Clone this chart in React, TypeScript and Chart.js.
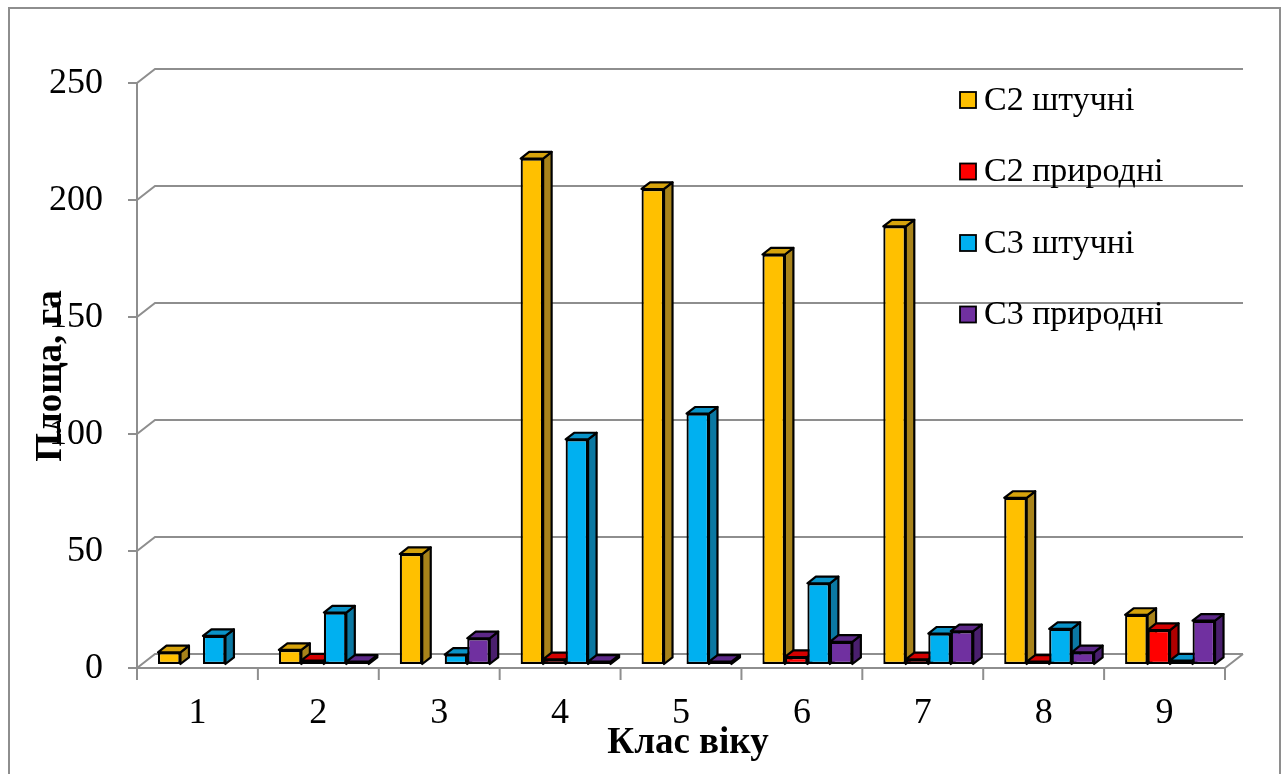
import React, { useEffect, useRef } from "react";
import { Chart, registerables } from "chart.js";

Chart.register(...registerables);

// Age classes and areas (ha) per stand type
const categories = ["1", "2", "3", "4", "5", "6", "7", "8", "9"];
const c2Planted = [5, 6, 47, 216, 203, 175, 187, 71, 21];
const c2Natural = [0, 1.5, 0, 2, 0, 3, 2, 1, 14.5];
const c3Planted = [12, 22, 4, 96, 107, 34.5, 13, 15, 1.5];
const c3Natural = [0, 1, 11, 1, 1, 9.5, 14, 5, 18.5];
const seriesNames = ["С2 штучні", "С2 природні", "С3 штучні", "С3 природні"];
const yTicks = [0, 50, 100, 150, 200, 250];

// front / top / side shades of each series
const palette = [
  { front: "#FFC000", top: "#D6A30C", side: "#A8831A" },
  { front: "#FF0000", top: "#D40000", side: "#B00000" },
  { front: "#00B0F0", top: "#0A93C8", side: "#0B78A2" },
  { front: "#7030A0", top: "#5D2888", side: "#4A1F6E" },
];

const SERIF = "'Liberation Serif', 'Times New Roman', serif";
const GRID = "#8E8E8E";
const OUTLINE = 2.2;

// depth geometry of the pseudo-3D box (pixels)
const FRONT_DX = -5.5; // front axis plane relative to the bar plane
const FRONT_DY = 4;
const WALL_DX = 18; // back wall relative to the front plane
const WALL_DY = -14;
const BAR_DX = 8.5; // bar thickness
const BAR_DY = -6.6;

const box3d = {
  id: "box3d",
  beforeDatasetsDraw(chart: any) {
    const { ctx, chartArea } = chart;
    const xs = chart.scales.x;
    const ys = chart.scales.y;
    const fl = chartArea.left + FRONT_DX;
    const fr = chartArea.right + FRONT_DX;
    const fy = (v: number) => ys.getPixelForValue(v) + FRONT_DY;

    ctx.save();
    // outer frame
    ctx.strokeStyle = GRID;
    ctx.lineWidth = 2;
    ctx.strokeRect(9, 8, 1271, 800);

    // back wall gridlines, left wall ledges and tick marks
    ctx.lineWidth = 2;
    ctx.strokeStyle = GRID;
    yTicks.forEach((v) => {
      const y = fy(v);
      ctx.beginPath();
      ctx.moveTo(fl - 9, y);
      ctx.lineTo(fl, y);
      ctx.lineTo(fl + WALL_DX, y + WALL_DY);
      ctx.lineTo(fr + WALL_DX, y + WALL_DY);
      ctx.stroke();
    });
    // front vertical axis
    ctx.beginPath();
    ctx.moveTo(fl, fy(yTicks[yTicks.length - 1]));
    ctx.lineTo(fl, fy(0));
    ctx.stroke();
    // floor front edge and right edge
    ctx.beginPath();
    ctx.moveTo(fl, fy(0));
    ctx.lineTo(fr, fy(0));
    ctx.lineTo(fr + WALL_DX, fy(0) + WALL_DY);
    ctx.stroke();
    // category tick marks
    const n = categories.length;
    const step = (fr - fl) / n;
    for (let i = 0; i <= n; i++) {
      const x = fl + i * step;
      ctx.beginPath();
      ctx.moveTo(x, fy(0));
      ctx.lineTo(x, fy(0) + 12);
      ctx.stroke();
    }

    // y tick labels
    ctx.fillStyle = "#000";
    ctx.font = `36px ${SERIF}`;
    ctx.textAlign = "right";
    ctx.textBaseline = "middle";
    yTicks.forEach((v) => ctx.fillText(String(v), fl - 34, fy(v) + 1));

    // x tick labels
    ctx.textAlign = "center";
    categories.forEach((c, i) => {
      ctx.fillText(c, xs.getPixelForValue(i) + FRONT_DX, fy(0) + 46);
    });

    // axis titles
    ctx.font = `bold 37px ${SERIF}`;
    ctx.textBaseline = "alphabetic";
    ctx.fillText("Клас віку", 688, 753);
    ctx.save();
    ctx.translate(61, 376);
    ctx.rotate(-Math.PI / 2);
    ctx.fillText("Площа, га", 0, 0);
    ctx.restore();

    // legend
    const legendY = [100, 171.5, 243, 314.5];
    ctx.font = `34px ${SERIF}`;
    ctx.textAlign = "left";
    ctx.textBaseline = "middle";
    seriesNames.forEach((name, i) => {
      const y = legendY[i];
      ctx.fillStyle = palette[i].front;
      ctx.fillRect(960, y - 8, 16, 16);
      ctx.strokeStyle = "#000";
      ctx.lineWidth = 1.8;
      ctx.strokeRect(960, y - 8, 16, 16);
      ctx.fillStyle = "#000";
      ctx.fillText(name, 984, y + 1);
    });

    // side and top faces of the bars (front faces are drawn by the chart)
    ctx.lineWidth = OUTLINE;
    ctx.strokeStyle = "#000";
    ctx.lineJoin = "round";
    chart.data.datasets.forEach((ds: any, di: number) => {
      const meta = chart.getDatasetMeta(di);
      meta.data.forEach((bar: any, i: number) => {
        if (!ds.data[i]) return;
        const { x, y, base, width } = bar.getProps(["x", "y", "base", "width"], true);
        const l = x - width / 2;
        const r = x + width / 2;
        ctx.fillStyle = palette[di].side;
        ctx.beginPath();
        ctx.moveTo(r, y);
        ctx.lineTo(r + BAR_DX, y + BAR_DY);
        ctx.lineTo(r + BAR_DX, base + BAR_DY);
        ctx.lineTo(r, base);
        ctx.closePath();
        ctx.fill();
        ctx.stroke();
        ctx.fillStyle = palette[di].top;
        ctx.beginPath();
        ctx.moveTo(l, y);
        ctx.lineTo(l + BAR_DX, y + BAR_DY);
        ctx.lineTo(r + BAR_DX, y + BAR_DY);
        ctx.lineTo(r, y);
        ctx.closePath();
        ctx.fill();
        ctx.stroke();
      });
    });
    ctx.restore();
  },
};

export default function App() {
  const canvasRef = useRef<HTMLCanvasElement | null>(null);

  useEffect(() => {
    const canvas = canvasRef.current;
    if (!canvas) return;
    const series = [c2Planted, c2Natural, c3Planted, c3Natural];
    const chart = new Chart(canvas, {
      type: "bar",
      data: {
        labels: categories,
        datasets: series.map((values, i) => ({
          label: seriesNames[i],
          data: values,
          backgroundColor: palette[i].front,
          borderColor: "#000",
          borderWidth: (c: any) => (c.raw ? OUTLINE : 0),
          borderSkipped: false,
          categoryPercentage: 0.744,
          barPercentage: 1.0,
        })),
      },
      options: {
        responsive: false,
        animation: false,
        devicePixelRatio: 1,
        layout: { padding: { left: 142.5, right: 57.5, top: 79, bottom: 110 } },
        plugins: { legend: { display: false }, tooltip: { enabled: false } },
        scales: {
          x: { display: false, grid: { display: false } },
          y: { display: false, min: 0, max: 250, grid: { display: false } },
        },
      },
      plugins: [box3d],
    });
    return () => chart.destroy();
  }, []);

  return (
    <div style={{ position: "fixed", left: 0, top: 0, width: 1288, height: 774, background: "#fff" }}>
      <canvas ref={canvasRef} width={1288} height={774} />
    </div>
  );
}
